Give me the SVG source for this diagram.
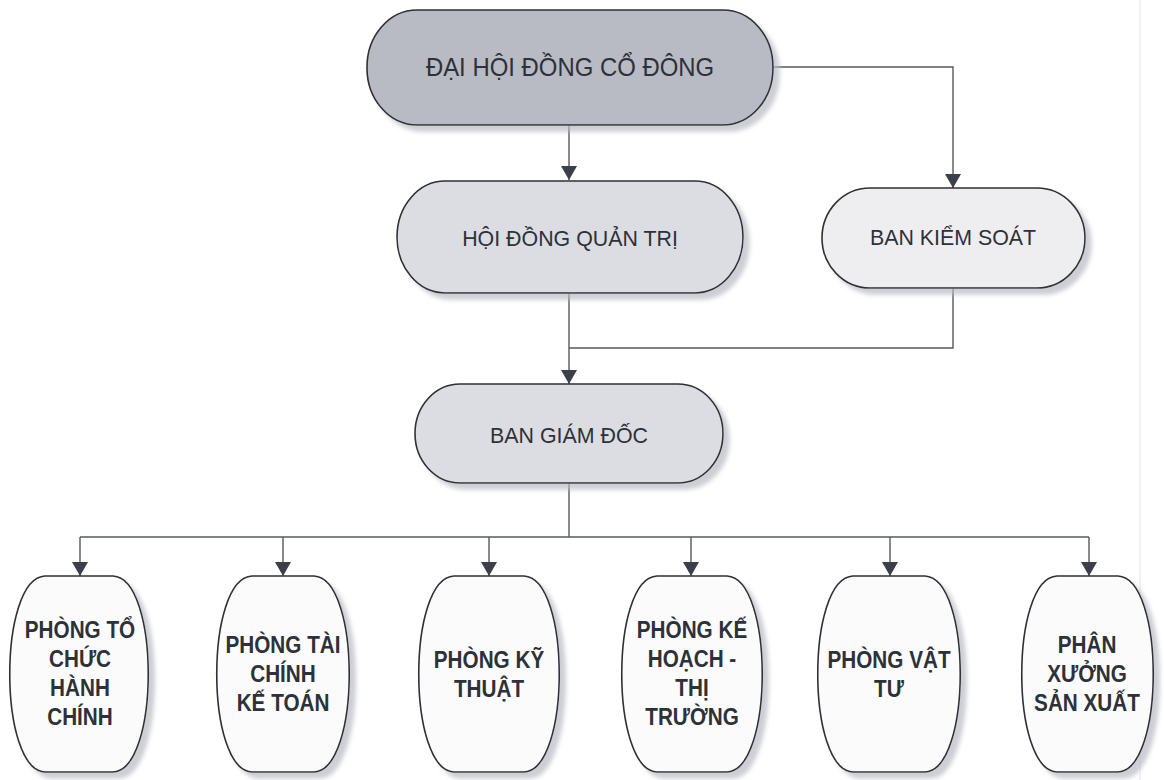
<svg xmlns="http://www.w3.org/2000/svg" width="1164" height="780" viewBox="0 0 1164 780">
<style>
.bg{fill:#ffffff}
.shape{stroke:#2e3035;stroke-width:1.6}
.top{fill:#b8bbc4}
.mid{fill:#dcdde2}
.light{fill:#eeeef1}
.white{fill:#fbfbfb}
.t{font-family:"Liberation Sans",Arial,sans-serif;fill:#2d3139;text-anchor:middle}
.t1{font-size:26px}
.t2{font-size:23px}
.t3{font-size:23px;font-weight:bold}
.conn{fill:none;stroke:#55585e;stroke-width:1.4}
</style>
<defs>
<filter id="sh" x="-10%" y="-10%" width="125%" height="125%">
<feDropShadow dx="6" dy="6" stdDeviation="2" flood-color="#b8bac2" flood-opacity="0.7"/>
</filter>
<marker id="ah" viewBox="0 0 14 16" refX="14" refY="8" markerWidth="14" markerHeight="16" markerUnits="userSpaceOnUse" orient="auto">
<path d="M0,0 L14,8 L0,16 Z" fill="#3a3f4a"/>
</marker>
</defs>
<rect class="bg" x="0" y="0" width="1164" height="780"/>
<line x1="1140" y1="0" x2="1140" y2="780" stroke="#ececee" stroke-width="1.5"/>

<g id="connectors">
<path class="conn" d="M569,125 V180" marker-end="url(#ah)"/>
<path class="conn" d="M773,67 H953 V188" marker-end="url(#ah)"/>
<path class="conn" d="M569,293 V384" marker-end="url(#ah)"/>
<path class="conn" d="M953,288 V348 H569"/>
<path class="conn" d="M569,483 V537"/>
<path class="conn" d="M80,537 H1089"/>
<path class="conn" d="M80,537 V576" marker-end="url(#ah)"/>
<path class="conn" d="M283,537 V576" marker-end="url(#ah)"/>
<path class="conn" d="M489,537 V576" marker-end="url(#ah)"/>
<path class="conn" d="M691,537 V576" marker-end="url(#ah)"/>
<path class="conn" d="M890,537 V576" marker-end="url(#ah)"/>
<path class="conn" d="M1089,537 V576" marker-end="url(#ah)"/>
</g>

<g id="dai-hoi-dong-co-dong">
<rect class="shape top" filter="url(#sh)" x="367" y="10" width="406" height="115" rx="50" ry="57"/>
<text class="t t1" transform="translate(570,0) scale(0.92,1)" x="0" y="76">ĐẠI HỘI ĐỒNG CỔ ĐÔNG</text>
</g>

<g id="hoi-dong-quan-tri">
<rect class="shape mid" filter="url(#sh)" x="397" y="181" width="346" height="112" rx="48" ry="56"/>
<text class="t t2" transform="translate(570,0) scale(0.93,1)" x="0" y="246">HỘI ĐỒNG QUẢN TRỊ</text>
</g>

<g id="ban-kiem-soat">
<rect class="shape light" filter="url(#sh)" x="822" y="188" width="263" height="100" rx="48" ry="50"/>
<text class="t t2" transform="translate(953,0) scale(0.93,1)" x="0" y="245">BAN KIỂM SOÁT</text>
</g>

<g id="ban-giam-doc">
<rect class="shape mid" filter="url(#sh)" x="415" y="384" width="308" height="99" rx="45" ry="49.5"/>
<text class="t t2" transform="translate(569,0) scale(0.93,1)" x="0" y="443">BAN GIÁM ĐỐC</text>
</g>

<g id="phong-to-chuc-hanh-chinh">
<path class="shape white" filter="url(#sh)" d="M45,576 H113 C160,578 160,770 113,772 H45 C-2,770 -2,578 45,576 Z"/>
<text class="t t3" transform="translate(80,0) scale(0.9,1)"><tspan x="0" y="638">PHÒNG TỔ</tspan><tspan x="0" y="667">CHỨC</tspan><tspan x="0" y="696">HÀNH</tspan><tspan x="0" y="725">CHÍNH</tspan></text>
</g>

<g id="phong-tai-chinh-ke-toan">
<path class="shape white" filter="url(#sh)" d="M252,576 H314 C361,578 361,770 314,772 H252 C205,770 205,578 252,576 Z"/>
<text class="t t3" transform="translate(283,0) scale(0.9,1)"><tspan x="0" y="653">PHÒNG TÀI</tspan><tspan x="0" y="682">CHÍNH</tspan><tspan x="0" y="711">KẾ TOÁN</tspan></text>
</g>

<g id="phong-ky-thuat">
<path class="shape white" filter="url(#sh)" d="M454,576 H524 C571,578 571,770 524,772 H454 C407,770 407,578 454,576 Z"/>
<text class="t t3" transform="translate(489,0) scale(0.9,1)"><tspan x="0" y="668">PHÒNG KỸ</tspan><tspan x="0" y="697">THUẬT</tspan></text>
</g>

<g id="phong-ke-hoach-thi-truong">
<path class="shape white" filter="url(#sh)" d="M657,576 H727 C774,578 774,770 727,772 H657 C610,770 610,578 657,576 Z"/>
<text class="t t3" transform="translate(692,0) scale(0.9,1)"><tspan x="0" y="638">PHÒNG KẾ</tspan><tspan x="0" y="667">HOẠCH -</tspan><tspan x="0" y="696">THỊ</tspan><tspan x="0" y="725">TRƯỜNG</tspan></text>
</g>

<g id="phong-vat-tu">
<path class="shape white" filter="url(#sh)" d="M853,576 H925 C972,578 972,770 925,772 H853 C806,770 806,578 853,576 Z"/>
<text class="t t3" transform="translate(889,0) scale(0.9,1)"><tspan x="0" y="668">PHÒNG VẬT</tspan><tspan x="0" y="697">TƯ</tspan></text>
</g>

<g id="phan-xuong-san-xuat">
<path class="shape white" filter="url(#sh)" d="M1057,576 H1118 C1165,578 1165,770 1118,772 H1057 C1010,770 1010,578 1057,576 Z"/>
<text class="t t3" transform="translate(1087,0) scale(0.9,1)"><tspan x="0" y="653">PHÂN</tspan><tspan x="0" y="682">XƯỞNG</tspan><tspan x="0" y="711">SẢN XUẤT</tspan></text>
</g>
</svg>
